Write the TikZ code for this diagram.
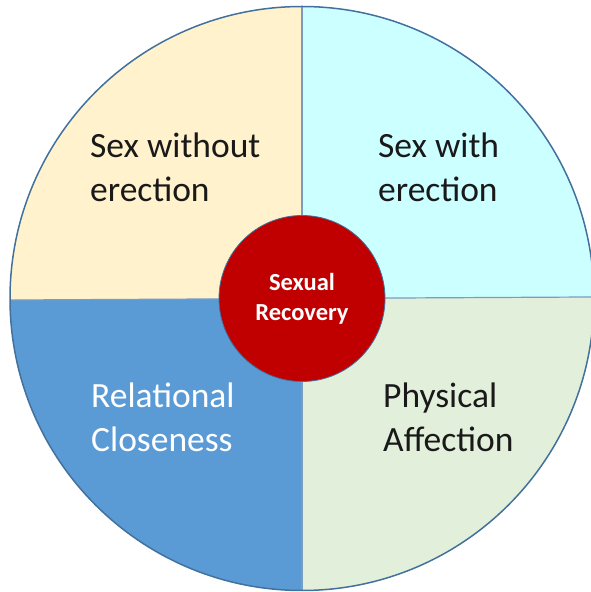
\documentclass[tikz,border=0pt]{standalone}
\usepackage{fontspec}
\setmainfont{Carlito}
\usetikzlibrary{positioning}

\definecolor{wheelcream}{HTML}{FFF2CC}
\definecolor{wheelcyan}{HTML}{CCFFFF}
\definecolor{wheelblue}{HTML}{5B9BD5}
\definecolor{wheelgreen}{HTML}{E2EFDA}
\definecolor{wheeledge}{HTML}{41719C}
\definecolor{wheelline}{HTML}{7A9CC0}
\definecolor{hubred}{HTML}{C00000}

\begin{document}
\begin{tikzpicture}[x=1pt,y=1pt,
    quartertext/.style={anchor=base west, align=left, inner sep=0pt,
      font=\fontsize{35.5}{44}\selectfont, text=black!90},
    hub/.style={circle, draw=wheeledge, line width=0.8pt, fill=hubred,
      minimum size=166pt, inner sep=0pt, align=center, text=white,
      font=\bfseries\fontsize{24.5}{30}\selectfont}]
    \useasboundingbox (0,0) rectangle (591,592);
    \clip (0,0) rectangle (591,592);
    \coordinate (c) at (302,293.5);

    % Quarters
    \fill[wheelcream] (c) -- +(180.3:292) arc[start angle=180.3, end angle=90, radius=292] -- cycle;
    \fill[wheelcyan] (c) -- +(90:292) arc[start angle=90, end angle=0.3, radius=292] -- cycle;
    \fill[wheelgreen] (c) -- +(0.3:292) arc[start angle=0.3, end angle=-90, radius=292] -- cycle;
    \fill[wheelblue] (c) -- +(-90:292) arc[start angle=-90, end angle=-179.7, radius=292] -- cycle;

    % Dividers and rim
    \draw[wheelline, line width=1.2pt] (c) +(180.3:292) -- +(0.3:292);
    \draw[wheelline, line width=1.2pt] (c) +(90:292) -- +(-90:292);
    \draw[wheeledge, line width=1.5pt] (c) circle[radius=292];

    % Labels
    \node[quartertext] (nosex) at (90,390) {Sex without\\erection};
    \node[quartertext] (withsex) at (378,390) {Sex with\\erection};
    \node[quartertext, text=white] (closeness) at (91,140) {Relational\\Closeness};
    \node[quartertext] (affection) at (383,140) {Physical\\Affection};

    % Hub
    \node[hub] (recovery) at (c) {Sexual\\Recovery};
\end{tikzpicture}
\end{document}
